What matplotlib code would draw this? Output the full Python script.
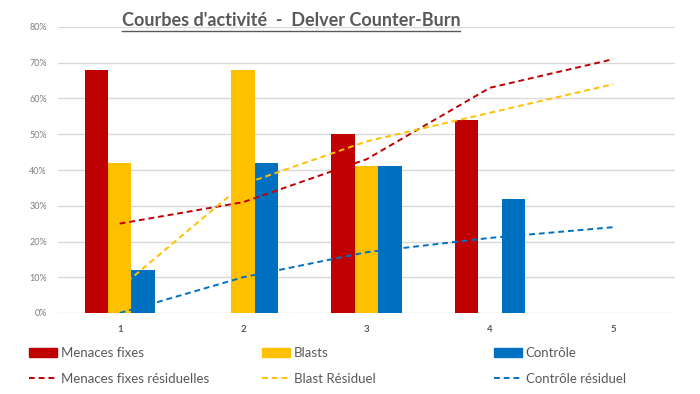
import numpy as np
import matplotlib
matplotlib.use('Agg')
import matplotlib.pyplot as plt
from matplotlib.lines import Line2D
from matplotlib.patches import Patch

plt.rcParams['font.family'] = ['Lato', 'DejaVu Sans']

# donnees
etapes = [1, 2, 3, 4, 5]
menaces = [0.68, 0.0, 0.50, 0.54, 0.0]
blasts = [0.42, 0.68, 0.41, 0.0, 0.0]
controle = [0.12, 0.42, 0.41, 0.32, 0.0]
menaces_res = [0.25, 0.31, 0.43, 0.63, 0.71]
blast_res = [0.07, 0.36, 0.48, 0.56, 0.64]
controle_res = [0.0, 0.10, 0.17, 0.21, 0.24]

rouge = '#C00000'
jaune = '#FFC000'
bleu = '#0070C0'
gris = '#595959'

fig = plt.figure(figsize=(7, 3.94), dpi=100)
ax = fig.add_axes([58/700, 1-313/394, (675-58)/700, (313-27)/394])

x = np.array(etapes)
w = 0.19
ax.bar(x - w, menaces, w, color=rouge, linewidth=0, zorder=2)
ax.bar(x, blasts, w, color=jaune, linewidth=0, zorder=2)
ax.bar(x + w, controle, w, color=bleu, linewidth=0, zorder=2)

ax.plot(x, menaces_res, color=rouge, ls=(0, (3, 2)), lw=1.4, zorder=3)
ax.plot(x, blast_res, color=jaune, ls=(0, (3, 2)), lw=1.4, zorder=3)
ax.plot(x, controle_res, color=bleu, ls=(0, (3, 2)), lw=1.4, zorder=3)

ax.set_xlim(0.5, 5.5)
ax.set_ylim(0, 0.8)
ax.set_yticks(np.arange(0, 0.81, 0.1))
ax.set_yticklabels(['{:.0f}%'.format(v*100) for v in np.arange(0, 0.81, 0.1)])
ax.set_xticks(etapes)
ax.yaxis.grid(True, color='#d9d9d9', lw=1)
ax.set_axisbelow(True)
for s in ax.spines.values():
    s.set_visible(False)
ax.tick_params(axis='y', length=0, pad=8, labelsize=6.5, labelcolor='#7f7f7f')
ax.tick_params(axis='x', length=0, pad=9, labelsize=7, labelcolor=gris)
for lab in ax.get_xticklabels():
    lab.set_fontweight('bold')

titre = fig.text(291/700, 1-20/394, "Courbes d'activité  -  Delver Counter-Burn",
                 ha='center', va='center', fontsize=13, fontweight='bold', color=gris)

# legendes en trois colonnes
cols = [
    (29, Patch(color=rouge), 'Menaces fixes', Line2D([], [], color=rouge, ls=(0, (3, 2)), lw=1.4), 'Menaces fixes résiduelles'),
    (262, Patch(color=jaune), 'Blasts', Line2D([], [], color=jaune, ls=(0, (3, 2)), lw=1.4), 'Blast Résiduel'),
    (494, Patch(color=bleu), 'Contrôle', Line2D([], [], color=bleu, ls=(0, (3, 2)), lw=1.4), 'Contrôle résiduel'),
]
for px, h1, l1, h2, l2 in cols:
    fig.legend([h1, h2], [l1, l2], loc='upper left',
               bbox_to_anchor=(px/700, 1-347/394), frameon=False,
               fontsize=9.5, labelcolor=gris, handlelength=2.1, handleheight=0.7,
               handletextpad=0.3, labelspacing=1.05, borderpad=0, borderaxespad=0)

# soulignement du titre
fig.canvas.draw()
bb = titre.get_window_extent()
yl = bb.y0 - 2
fig.add_artist(Line2D([bb.x0/700, bb.x1/700], [yl/394, yl/394], color=gris, lw=1,
                      transform=fig.transFigure))

fig.savefig('out.png', dpi=100)
